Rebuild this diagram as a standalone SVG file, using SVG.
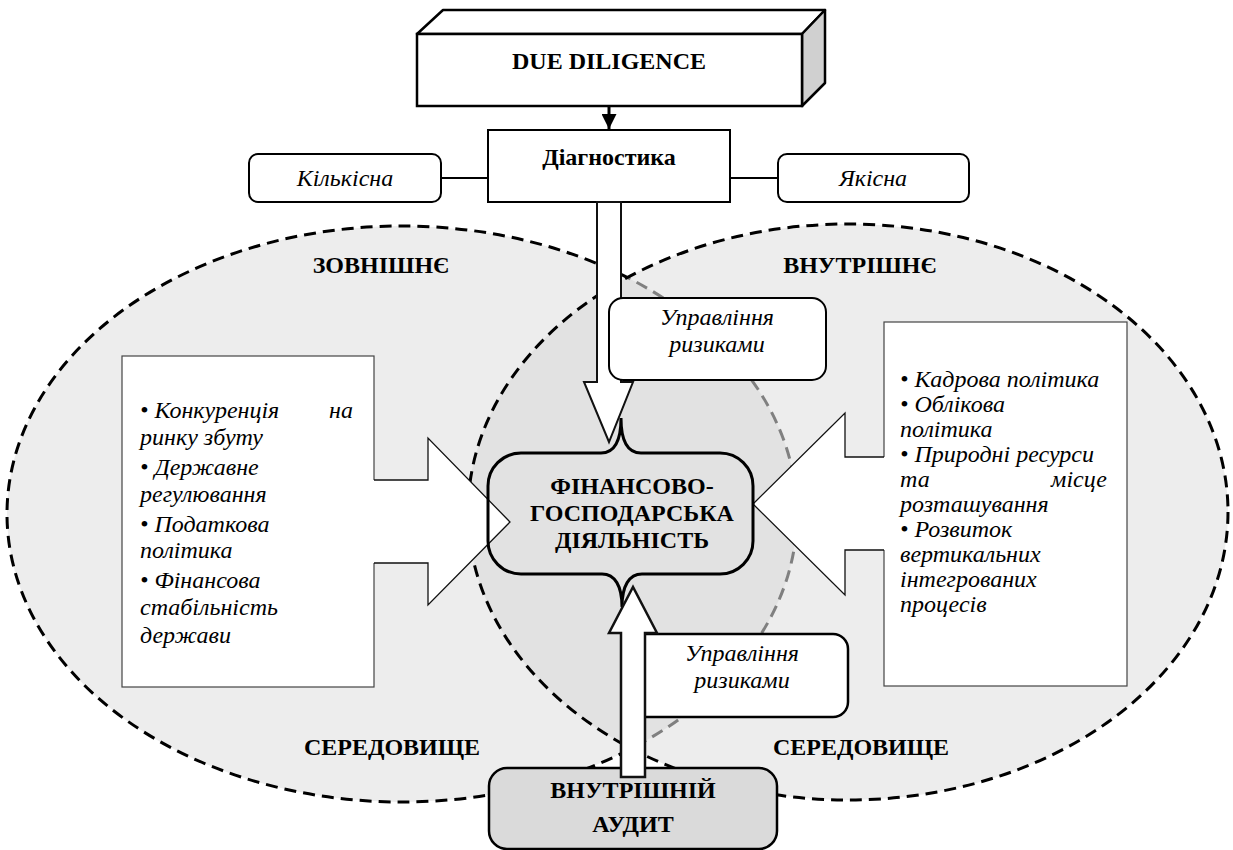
<svg xmlns="http://www.w3.org/2000/svg" width="1233" height="850" viewBox="0 0 1233 850" font-family="'Liberation Serif', 'DejaVu Serif', serif">
<style>
  text { font-family: 'Liberation Serif', 'DejaVu Serif', serif; font-size: 24px; fill: #000; }
  .b { font-weight: bold; }
  .i { font-style: italic; }
  .c { text-anchor: middle; }
  .e { text-anchor: end; }
  .dash { fill: none; stroke: #000; stroke-width: 3; stroke-dasharray: 12 7; }
  .dashg { fill: none; stroke: #808080; stroke-width: 3; stroke-dasharray: 12 7; }
  .box { fill: #fff; stroke: #000; stroke-width: 2; }
  .list { fill: #fff; stroke: #444; stroke-width: 1.2; }
  .blk { fill: #fff; stroke: #111; stroke-width: 1.3; }
  .blkfill { fill: #fff; stroke: none; }
  .blkline { fill: none; stroke: #111; stroke-width: 1.3; }
</style>
<defs>
  <clipPath id="clipR"><ellipse cx="848" cy="512" rx="380" ry="288"/></clipPath>
  <marker id="ah" viewBox="0 0 10 10" refX="10" refY="5" markerWidth="5" markerHeight="5" orient="auto" markerUnits="strokeWidth">
    <path d="M0,0 L10,5 L0,10 Z" fill="#000"/>
  </marker>
</defs>

<g id="environments">
  <ellipse cx="402" cy="514" rx="395" ry="288" class="dash" style="fill:#ededed"/>
  <ellipse cx="848" cy="512" rx="380" ry="288" fill="#ededed" stroke="none"/>
  <g clip-path="url(#clipR)">
    <ellipse cx="402" cy="514" rx="395" ry="288" fill="#e2e2e2" stroke="none"/>
    <ellipse cx="402" cy="514" rx="395" ry="288" class="dashg"/>
  </g>
  <ellipse cx="848" cy="512" rx="380" ry="288" class="dash"/>
  <text class="b c" x="381" y="273" font-family="Liberation Serif">ЗОВНІШНЄ</text>
  <text class="b c" x="860" y="273" font-family="Liberation Serif">ВНУТРІШНЄ</text>
  <text class="b c" x="392" y="755" font-family="Liberation Serif">СЕРЕДОВИЩЕ</text>
  <text class="b c" x="861" y="755" font-family="Liberation Serif">СЕРЕДОВИЩЕ</text>
</g>

<g id="due-diligence">
  <polygon points="417,34 443,10 825,10 802,34" fill="#fff" stroke="#000" stroke-width="2.5" stroke-linejoin="round"/>
  <polygon points="802,34 825,10 825,83 802,106" fill="#d0d0d0" stroke="#000" stroke-width="2.5" stroke-linejoin="round"/>
  <rect x="417" y="34" width="385" height="72" fill="#fff" stroke="#000" stroke-width="2.5"/>
  <text class="b c" x="609" y="69" font-family="Liberation Serif">DUE DILIGENCE</text>
</g>

<g id="connectors">
  <line x1="609" y1="106" x2="609" y2="129" stroke="#000" stroke-width="3" marker-end="url(#ah)"/>
  <line x1="441" y1="178" x2="488" y2="178" stroke="#000" stroke-width="2"/>
  <line x1="730" y1="178" x2="778" y2="178" stroke="#000" stroke-width="2"/>
</g>

<g id="diagnostics">
  <rect x="488" y="130" width="242" height="72" class="box"/>
  <text class="b c" x="609" y="165" font-family="Liberation Serif">Діагностика</text>
</g>

<g id="quantitative">
  <rect x="249" y="154" width="192" height="48" rx="9" class="box"/>
  <text class="i c" x="345" y="186" font-family="Liberation Serif">Кількісна</text>
</g>

<g id="qualitative">
  <rect x="778" y="154" width="191" height="48" rx="9" class="box"/>
  <text class="i c" x="873" y="186" font-family="Liberation Serif">Якісна</text>
</g>

<g id="arrow-down">
  <polygon points="597,202 621,202 621,382 633,382 609,442 584,382 597,382" class="blk" style="stroke-width:2"/>
</g>

<g id="risk-top">
  <rect x="609" y="298" width="217" height="82" rx="14" class="box"/>
  <text class="i c" x="717" y="325" font-family="Liberation Serif">Управління</text>
  <text class="i c" x="717" y="352" font-family="Liberation Serif">ризиками</text>
</g>

<g id="external-factors" font-family="Liberation Serif">
  <rect x="122" y="356" width="252" height="331" class="list"/>
  <path d="M373,480 L428,480 L428,438 L510,522 L428,605 L428,563 L373,563 Z" class="blkfill"/>
  <path d="M374,480 L428,480 L428,438 L510,522 L428,605 L428,563 L374,563" class="blkline"/>
  <text class="i" x="140" y="418">• Конкуренція</text>
  <text class="i e" x="353" y="418">на</text>
  <text class="i" x="140" y="445">ринку збуту</text>
  <text class="i" x="140" y="475">• Державне</text>
  <text class="i" x="140" y="502">регулювання</text>
  <text class="i" x="140" y="532">• Податкова</text>
  <text class="i" x="140" y="558">політика</text>
  <text class="i" x="140" y="588">• Фінансова</text>
  <text class="i" x="140" y="615">стабільність</text>
  <text class="i" x="140" y="643">держави</text>
</g>

<g id="internal-factors" font-family="Liberation Serif">
  <rect x="884" y="322" width="243" height="364" class="list"/>
  <path d="M885,457 L845,457 L845,413 L753,504 L845,595 L845,550 L885,550 Z" class="blkfill"/>
  <path d="M884,457 L845,457 L845,413 L753,504 L845,595 L845,550 L884,550" class="blkline"/>
  <text class="i" x="900" y="387">• Кадрова політика</text>
  <text class="i" x="900" y="412">• Облікова</text>
  <text class="i" x="900" y="437">політика</text>
  <text class="i" x="900" y="462">• Природні ресурси</text>
  <text class="i" x="900" y="487">та</text>
  <text class="i e" x="1107" y="487">місце</text>
  <text class="i" x="900" y="512">розташування</text>
  <text class="i" x="900" y="537">• Розвиток</text>
  <text class="i" x="900" y="562">вертикальних</text>
  <text class="i" x="900" y="587">інтегрованих</text>
  <text class="i" x="900" y="612">процесів</text>
</g>

<g id="activity" font-family="Liberation Serif">
  <path d="M521,453 L601,453 C614,453 621,441 621,418 C621,441 628,453 641,453 L720,453 A33,33 0 0 1 753,486 L753,541 A33,33 0 0 1 720,574 L642,574 C629,574 622,586 622,607 C622,586 615,574 602,574 L521,574 A33,33 0 0 1 488,541 L488,486 A33,33 0 0 1 521,453 Z" fill="none" stroke="#000" stroke-width="3"/>
  <text class="b c" x="632" y="494">ФІНАНСОВО-</text>
  <text class="b c" x="632" y="521">ГОСПОДАРСЬКА</text>
  <text class="b c" x="632" y="548">ДІЯЛЬНІСТЬ</text>
</g>

<g id="internal-audit" font-family="Liberation Serif">
  <rect x="489" y="768" width="288" height="81" rx="18" fill="#dadada" stroke="#000" stroke-width="2.5"/>
  <text class="b c" x="633" y="798">ВНУТРІШНІЙ</text>
  <text class="b c" x="633" y="832">АУДИТ</text>
</g>

<g id="risk-bottom" font-family="Liberation Serif">
  <rect x="625" y="634" width="223" height="83" rx="15" class="box" style="stroke-width:2.5"/>
  <text class="i c" x="742" y="661">Управління</text>
  <text class="i c" x="742" y="688">ризиками</text>
</g>

<g id="arrow-up">
  <polygon points="621,777 645,777 645,633 657,633 633,587 609,633 621,633" class="blk" style="stroke-width:2.5"/>
</g>
</svg>
